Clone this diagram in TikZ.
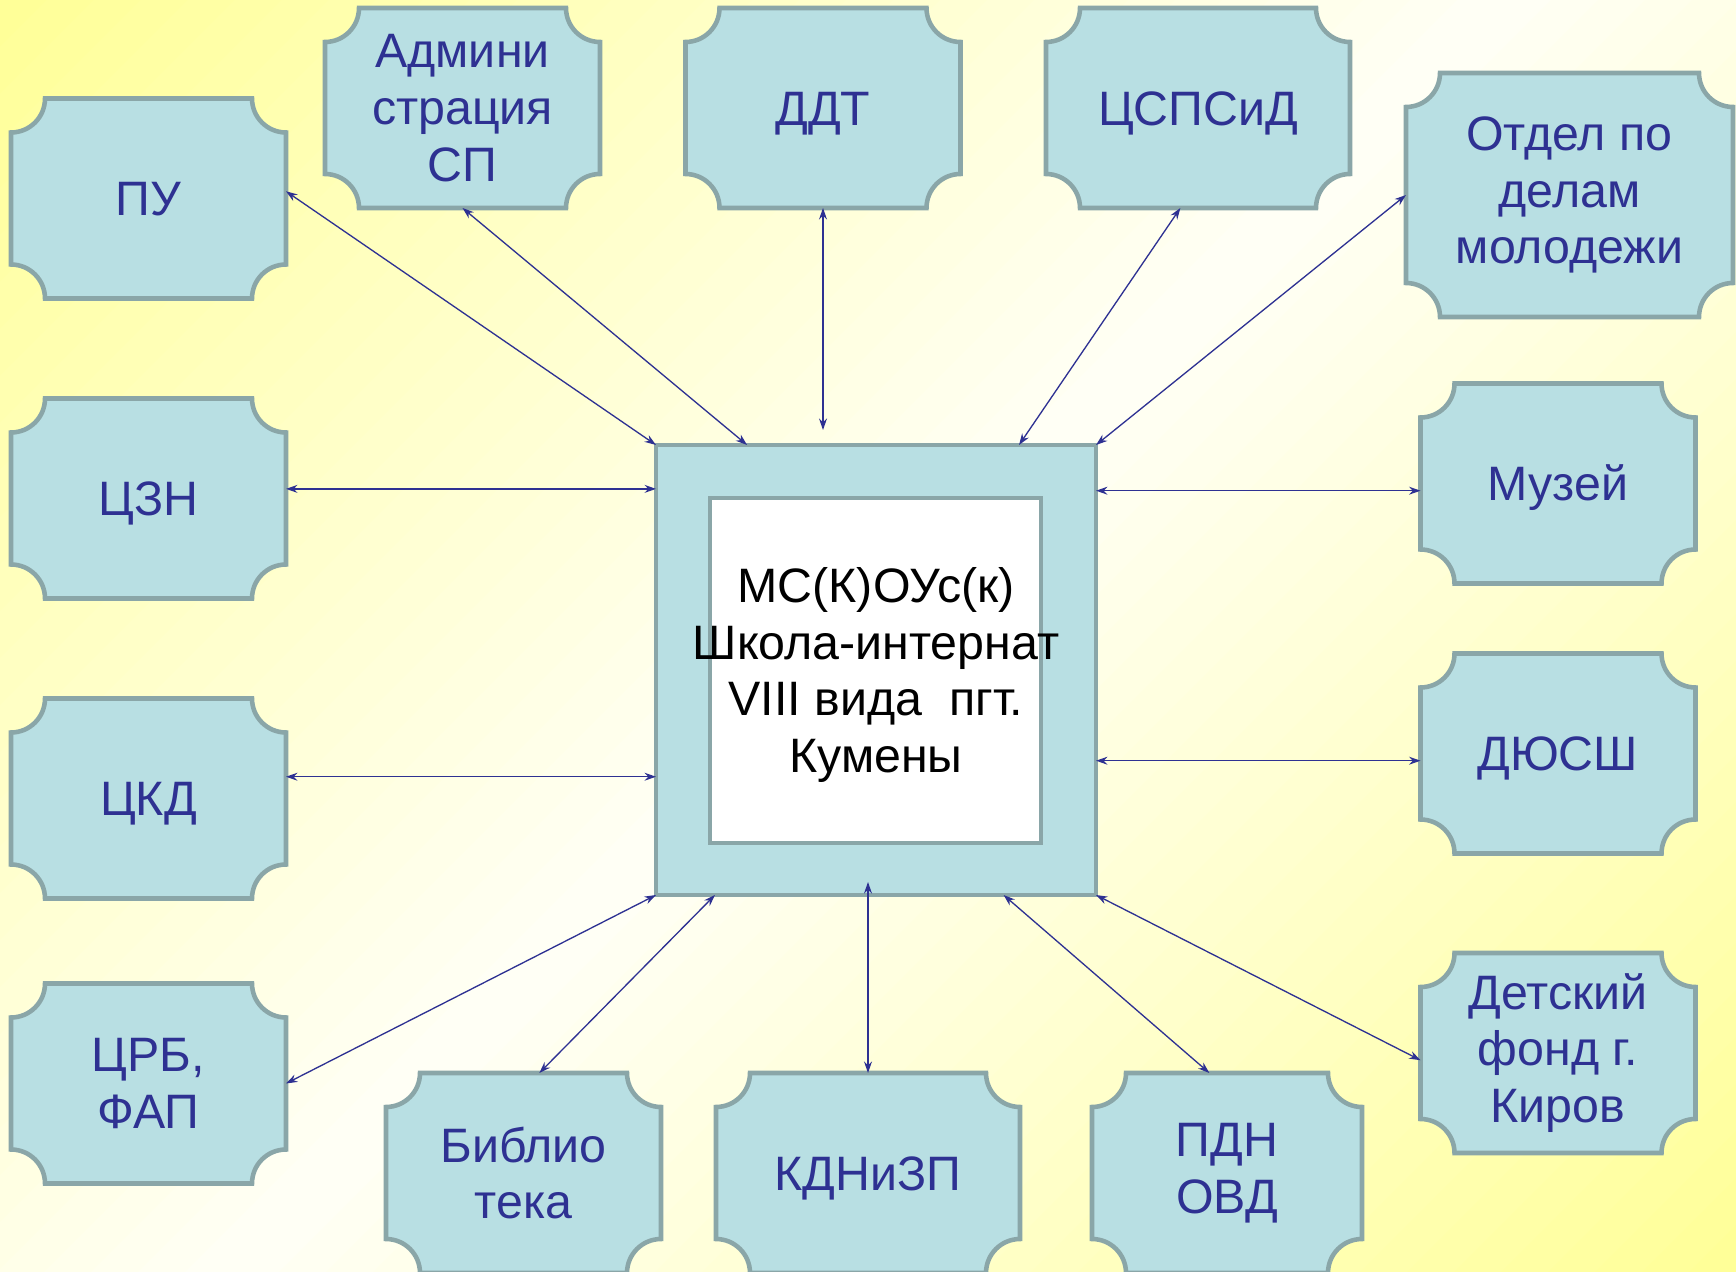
\documentclass[tikz,border=0pt]{standalone}
\usepackage{fontspec}
\setmainfont{Liberation Sans}
\usetikzlibrary{calc,arrows.meta}

\definecolor{boxfill}{RGB}{184,223,227}
\definecolor{boxline}{RGB}{138,166,168}
\definecolor{navy}{RGB}{46,49,146}
\definecolor{bgyellow}{RGB}{255,255,150}
\definecolor{bglight}{RGB}{255,255,246}

\pgfdeclarelayer{bg}
\pgfdeclarelayer{plq}
\pgfsetlayers{bg,plq,main}

% Rahmen mit eingezogenen Ecken
\def\plqr{0.68cm}
\newcommand{\plaque}[1]{%
  \draw[plaqueline] ([xshift=\plqr]#1.north west) -- ([xshift=-\plqr]#1.north east)
    arc[start angle=180,end angle=270,radius=\plqr] -- ([yshift=\plqr]#1.south east)
    arc[start angle=90,end angle=180,radius=\plqr] -- ([xshift=\plqr]#1.south west)
    arc[start angle=0,end angle=90,radius=\plqr] -- ([yshift=-\plqr]#1.north west)
    arc[start angle=270,end angle=360,radius=\plqr] -- cycle;}

\begin{document}
\begin{tikzpicture}[
	orgnode/.style={rectangle, inner sep=0pt, outer sep=0pt, minimum width=5.5cm, minimum height=4cm, align=center, text=navy, font=\fontsize{27.5}{32.3}\selectfont},
	oneline/.style={text height=19.7pt, text depth=0pt},
	hubnode/.style={rectangle, draw=boxline, fill=boxfill, line width=2.6pt, inner sep=0pt, outer sep=0pt, minimum width=8.8cm, minimum height=9cm},
	hubinner/.style={rectangle, draw=boxline, fill=white, line width=2.6pt, inner sep=0pt, outer sep=0pt, minimum width=6.62cm, minimum height=6.9cm},
	hubtext/.style={align=center, text=black, inner sep=0pt, font=\fontsize{27.5}{32.3}\selectfont},
	plaqueline/.style={draw=boxline, fill=boxfill, line width=2.6pt},
	link/.style={draw=navy, line width=0.75pt, >={Stealth[length=6.5pt,width=4.5pt]}, <->}
]
\useasboundingbox (0,0) rectangle (34.72,-25.44);

% Hintergrund
\begin{pgfonlayer}{bg}
\begin{scope}
\clip (0,0) rectangle (34.72,-25.44);
\foreach \i in {0,...,63} {
  \pgfmathsetmacro{\sa}{\i*0.94}
  \pgfmathsetmacro{\sb}{(\i+1)*0.94+0.06}
  \pgfmathtruncatemacro{\mix}{abs((\i+0.5)*0.94-30.08)/30.08*100}
  \fill[bgyellow!\mix!bglight] (\sa,0) -- (0,-\sa) -- (0,-\sb) -- (\sb,0) -- cycle;
}
\end{scope}
\end{pgfonlayer}

% Zentrum
\node[hubnode] (hub) at (17.52,-13.4) {};
\node[hubinner] (hubin) at (17.51,-13.41) {};
\node[hubtext] (hubtxt) at (17.52,-13.5) {МС(К)ОУс(к)\\Школа-интернат\\VIII вида\ \ пгт.\\Кумены};

% Partner
\node[orgnode, oneline] (pu) at (2.97,-3.97) {ПУ};
\node[orgnode] (adm) at (9.25,-2.16) {Админи\\страция\\СП};
\node[orgnode, oneline] (ddt) at (16.46,-2.16) {ДДТ};
\node[orgnode, oneline, minimum width=6.08cm] (cspsid) at (23.96,-2.16) {ЦСПСиД};
\node[orgnode, minimum width=6.54cm, minimum height=4.88cm] (otdel) at (31.39,-3.9) {Отдел по\\делам\\молодежи};
\node[orgnode, oneline] (czn) at (2.97,-9.97) {ЦЗН};
\node[orgnode, oneline] (muz) at (31.16,-9.67) {Музей};
\node[orgnode, oneline] (ckd) at (2.97,-15.97) {ЦКД};
\node[orgnode, oneline] (dyush) at (31.16,-15.07) {ДЮСШ};
\node[orgnode] (crb) at (2.97,-21.67) {ЦРБ,\\ФАП};
\node[orgnode] (det) at (31.16,-21.06) {Детский\\фонд г.\\Киров};
\node[orgnode] (bib) at (10.47,-23.46) {Библио\\тека};
\node[orgnode, oneline, minimum width=6.08cm] (kdn) at (17.36,-23.46) {КДНиЗП};
\node[orgnode, minimum width=5.4cm] (pdn) at (24.54,-23.46) {ПДН\\ОВД};

\begin{pgfonlayer}{plq}
\foreach \n in {pu,adm,ddt,cspsid,otdel,czn,muz,ckd,dyush,crb,det,bib,kdn,pdn}
  \plaque{\n};
\end{pgfonlayer}

% Verbindungen
\draw[link] (pu.3) -- (hub.north west);
\draw[link] (adm.south) -- ($(hub.north west)!0.207!(hub.north east)$);
\draw[link] (ddt.south) -- ($(ddt.south |- hub.north)+(0,0.3)$);
\draw[link] (cspsid.260) -- ($(hub.north west)!0.825!(hub.north east)$);
\draw[link] (otdel.west) -- (hub.north east);
\draw[link] (czn.4) -- (czn.4 -| hub.west);
\draw[link] (muz.183) -- (muz.183 -| hub.east);
\draw[link] (ckd.9) -- (ckd.9 -| hub.west);
\draw[link] (dyush.183) -- (dyush.183 -| hub.east);
\draw[link] (crb.east) -- (hub.south west);
\draw[link] (bib.81) -- ($(hub.south west)!0.134!(hub.south east)$);
\draw[link] (kdn.north) -- ($(kdn.north |- hub.south)+(0,0.26)$);
\draw[link] (pdn.100) -- ($(hub.south west)!0.79!(hub.south east)$);
\draw[link] (det.183) -- (hub.south east);

\end{tikzpicture}
\end{document}
